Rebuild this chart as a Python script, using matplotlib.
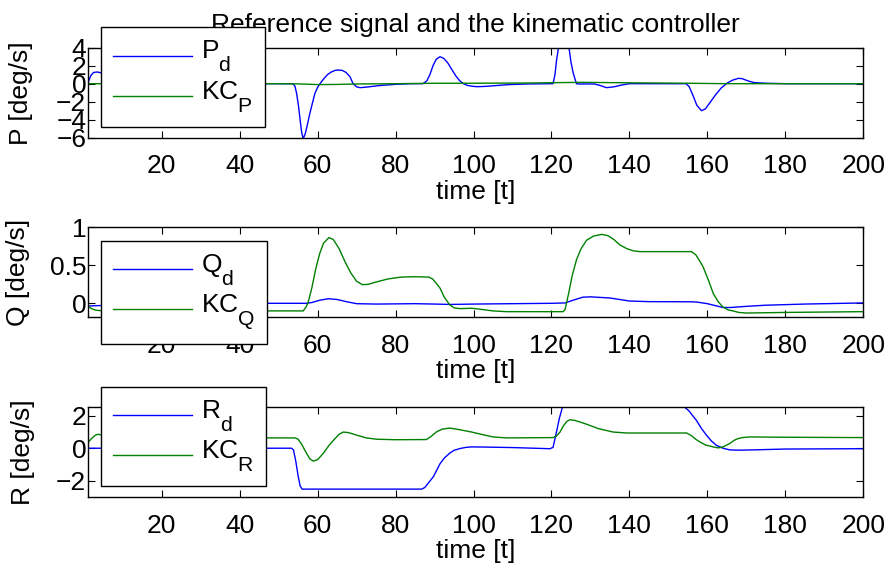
import numpy as np
import matplotlib
matplotlib.use("Agg")
import matplotlib.pyplot as plt
import matplotlib._mathtext as _mt
from matplotlib.legend_handler import HandlerLine2D
from matplotlib.lines import Line2D

plt.rcParams["font.family"] = ["Liberation Sans", "DejaVu Sans"]
plt.rcParams["mathtext.fontset"] = "custom"
plt.rcParams["mathtext.rm"] = "Liberation Sans"
plt.rcParams["mathtext.it"] = "Liberation Sans:italic"
# larger, deeper subscripts for the legend labels
_mt.SHRINK_FACTOR = 0.8
_mt.FontConstantsBase.sub1 = 0.95

# ---- roll rate P ----
t_Pd = [1, 1.8, 2.5, 3.5, 4.5, 6, 8, 10, 53.7, 54.2, 54.6, 55.1, 55.5, 55.9, 56.3,
        56.8, 57.4, 58, 58.7, 59.3, 60, 60.6, 61.5, 62.5, 63.5, 64.5, 65.3, 66.3,
        67.3, 68.3, 69.1, 70, 70.9, 72.5, 76, 80, 84, 87, 88, 88.8, 89.6, 90.4,
        91.4, 92.4, 93.4, 94.4, 95.4, 96.4, 97.4, 98.5, 100, 101, 103, 106, 109,
        114, 120.4, 120.9, 121.3, 121.8, 122.3, 123.2, 124, 124.5, 125, 125.6,
        126.4, 127, 131, 132.5, 134.1, 136, 138, 140, 154.5, 155.3, 156.3, 157.3,
        158.5, 159.5, 160.5, 162, 163.5, 165, 166.5, 168, 169, 170.5, 172, 175,
        180, 200]
P_d = [0, 0.9, 1.25, 1.3, 1.2, 0.6, 0.1, 0, 0, -0.3, -1.07, -2.5, -4.0, -5.4, -6.1,
       -5.6, -4.5, -3.3, -2.1, -1.07, -0.4, 0, 0.5, 1.0, 1.3, 1.48, 1.52, 1.48,
       1.25, 0.78, 0, -0.35, -0.44, -0.38, -0.2, -0.07, 0, 0, 0.3, 1.0, 2.0, 2.7,
       3.0, 2.8, 2.3, 1.6, 0.9, 0.35, 0, -0.2, -0.3, -0.33, -0.3, -0.2, -0.1,
       -0.03, 0, 1.0, 2.6, 4.0, 5.2, 6.0, 5.2, 4.0, 2.4, 1.15, 0, -0.03, -0.03,
       -0.2, -0.44, -0.35, -0.15, 0, 0, -0.3, -1.3, -2.4, -3.0, -2.8, -2.2, -1.3,
       -0.5, 0.05, 0.4, 0.6, 0.55, 0.3, 0.12, 0.05, 0, 0]
t_KCP = [1, 50, 55, 60, 65, 70, 80, 90, 100, 115, 122, 128, 140, 155, 165, 200]
KC_P = [0, 0, -0.02, -0.1, -0.08, -0.03, 0, 0.05, 0.05, 0.08, 0.12, 0.15, 0.1,
        0.05, 0, 0]

# ---- pitch rate Q ----
t_Qd = [1, 4, 10, 20, 46, 57, 58.5, 60.5, 62.7, 65, 67.5, 70, 75, 85, 90, 94, 100,
        110, 120, 123.5, 125.5, 128, 130, 135, 140, 145, 156, 157.5, 160, 162, 164,
        166, 170, 175, 185, 200]
Q_d = [-0.035, -0.03, -0.02, -0.01, 0, 0, 0.01, 0.04, 0.06, 0.05, 0.02, -0.005,
       -0.01, -0.005, -0.01, -0.015, -0.01, -0.005, 0, 0.005, 0.04, 0.08, 0.085,
       0.07, 0.03, 0.022, 0.02, 0.015, -0.005, -0.03, -0.055, -0.055, -0.04,
       -0.025, -0.01, 0.005]
t_KCQ = [1, 2, 3, 5, 46, 56.3, 57, 57.5, 58.5, 59.5, 60.5, 61.5, 62.9, 64, 65.5, 67,
         68.5, 70, 71.5, 73, 75, 78, 81.4, 85, 88.5, 89.5, 90.5, 91.4, 92.5, 93.9,
         95, 96.5, 99.5, 102, 105, 108.5, 123, 123.5, 124.4, 125.3, 126.4, 127.6,
         129, 130.8, 132.9, 134.5, 136, 137.5, 139.3, 141, 142.7, 150, 155.9, 157,
         158, 158.9, 160.3, 161.5, 162.8, 164, 165.5, 166.6, 168, 170, 180, 200]
KC_Q = [-0.035, -0.07, -0.09, -0.1, -0.1, -0.1, -0.05, 0.0, 0.2, 0.45, 0.65, 0.79,
        0.865, 0.84, 0.72, 0.55, 0.4, 0.29, 0.245, 0.25, 0.28, 0.32, 0.345, 0.35,
        0.345, 0.32, 0.26, 0.2, 0.08, -0.02, -0.06, -0.07, -0.065, -0.08, -0.1,
        -0.11, -0.11, -0.08, 0.13, 0.36, 0.57, 0.72, 0.83, 0.885, 0.907, 0.89,
        0.84, 0.77, 0.72, 0.69, 0.68, 0.68, 0.68, 0.64, 0.56, 0.48, 0.3, 0.13,
        0.02, -0.05, -0.09, -0.1, -0.12, -0.128, -0.12, -0.11]

# ---- yaw rate R ----
t_Rd = [1, 53.3, 53.8, 54.4, 55, 55.5, 56, 86.7, 87.5, 88.5, 89.7, 91.4, 92.5, 93.9,
        95, 96.5, 98, 99.5, 103, 110, 119.6, 120.4, 121.2, 122, 122.8, 154.2, 155.2,
        156.2, 157.2, 158.5, 159.8, 161, 162.3, 164, 165.7, 168, 172, 180, 200]
R_d = [0, 0, -0.1, -0.8, -1.7, -2.3, -2.5, -2.5, -2.4, -2.1, -1.74, -0.95, -0.6,
       -0.3, -0.13, -0.02, 0.05, 0.08, 0.07, 0.04, -0.03, 0.05, 0.9, 1.8, 2.5, 2.5,
       2.3, 2.0, 1.7, 1.2, 0.79, 0.45, 0.18, 0.0, -0.1, -0.12, -0.1, -0.05, -0.03]
t_KCR = [1, 2, 3, 3.7, 5, 8, 46, 54.2, 55, 56, 57, 58, 58.9, 60, 61.5, 63, 64.5, 65.5,
         66.6, 68, 70, 72.5, 75.1, 80, 87.9, 89, 90.5, 92, 93.9, 96, 99.5, 102, 105,
         108.5, 120.4, 121.3, 122.2, 123, 124, 124.7, 126, 128, 129.9, 132, 135.8,
         139.3, 154.7, 156, 157, 158.1, 159.5, 161.5, 162.8, 164, 165.7, 167, 167.9,
         169, 170.9, 180, 200]
KC_R = [0.32, 0.6, 0.8, 0.85, 0.8, 0.7, 0.63, 0.63, 0.55, 0.2, -0.25, -0.65, -0.79,
        -0.7, -0.3, 0.2, 0.6, 0.85, 0.99, 0.95, 0.8, 0.63, 0.55, 0.52, 0.53, 0.7,
        1.0, 1.17, 1.23, 1.15, 0.99, 0.85, 0.69, 0.63, 0.65, 0.75, 0.99, 1.35, 1.65,
        1.74, 1.7, 1.55, 1.39, 1.2, 0.99, 0.93, 0.93, 0.75, 0.55, 0.38, 0.2, 0.08,
        0.02, 0.08, 0.28, 0.5, 0.59, 0.65, 0.69, 0.67, 0.65]

x_ticks = [20, 40, 60, 80, 100, 120, 140, 160, 180, 200]

panels = [
    dict(t_ref=t_Pd, ref=P_d, t_kc=t_KCP, kc=KC_P, ylim=(-6, 4),
         yticks=[-6, -4, -2, 0, 2, 4], ylabel="P [deg/s]",
         labels=[r"P$_\mathrm{d}$", r"KC$_\mathrm{P}$"],
         rect=[0.0982, 0.7593, 0.8685, 0.1573], leg=(0.1131, 0.9523), ylab_x=-0.0705),
    dict(t_ref=t_Qd, ref=Q_d, t_kc=t_KCQ, kc=KC_Q, ylim=(-0.184, 1),
         yticks=[0, 0.5, 1], ylabel="Q [deg/s]",
         labels=[r"Q$_\mathrm{d}$", r"KC$_\mathrm{Q}$"],
         rect=[0.0982, 0.4453, 0.8685, 0.1573], leg=(0.1131, 0.5792), ylab_x=-0.0744),
    dict(t_ref=t_Rd, ref=R_d, t_kc=t_KCR, kc=KC_R, ylim=(-3, 2.5),
         yticks=[-2, 0, 2], ylabel="R [deg/s]",
         labels=[r"R$_\mathrm{d}$", r"KC$_\mathrm{R}$"],
         rect=[0.0982, 0.1306, 0.8685, 0.1573], leg=(0.1131, 0.3240), ylab_x=-0.068),
]


def _low_handle(leg_line, orig_line):
    # copy the style and sit the sample line close to the text baseline
    leg_line.update_from(orig_line)
    leg_line.set_ydata(np.asarray(leg_line.get_ydata()) - 4.2)


FS = 19
fig = plt.figure(figsize=(8.93, 5.72), dpi=100)
axes = []
for p in panels:
    ax = fig.add_axes(p["rect"])
    ax.plot(p["t_ref"], p["ref"], color=(0, 0, 1), lw=1.0, label=p["labels"][0])
    ax.plot(p["t_kc"], p["kc"], color=(0, 0.5, 0), lw=1.0, label=p["labels"][1])
    ax.set_xlim(1, 200)
    ax.set_ylim(*p["ylim"])
    ax.set_xticks(x_ticks)
    ax.set_yticks(p["yticks"])
    ax.set_yticklabels([f"{v:g}".replace("-", "\u2212") for v in p["yticks"]])
    ax.tick_params(direction="in", top=True, right=True, length=5, width=0.8,
                   labelsize=FS)
    ax.tick_params(axis="y", pad=1)
    ax.tick_params(axis="x", pad=12)
    for s in ax.spines.values():
        s.set_linewidth(1.0)
    ax.set_xlabel("time [t]", fontsize=FS, labelpad=1)
    ax.set_ylabel(p["ylabel"], fontsize=FS)
    ax.yaxis.set_label_coords(p["ylab_x"], 0.5)
    leg = ax.legend(loc="upper left", bbox_to_anchor=p["leg"],
                    bbox_transform=fig.transFigure, borderaxespad=0,
                    fontsize=FS, handlelength=3.0, handletextpad=0.34,
                    labelspacing=0.19, borderpad=0.45,
                    handler_map={Line2D: HandlerLine2D(update_func=_low_handle)},
                    fancybox=False, framealpha=1, edgecolor="black")
    leg.get_frame().set_linewidth(1.0)
    axes.append(ax)

axes[0].set_title("Reference signal and the kinematic controller", fontsize=FS, pad=11)

fig.savefig("out.png", dpi=100)
